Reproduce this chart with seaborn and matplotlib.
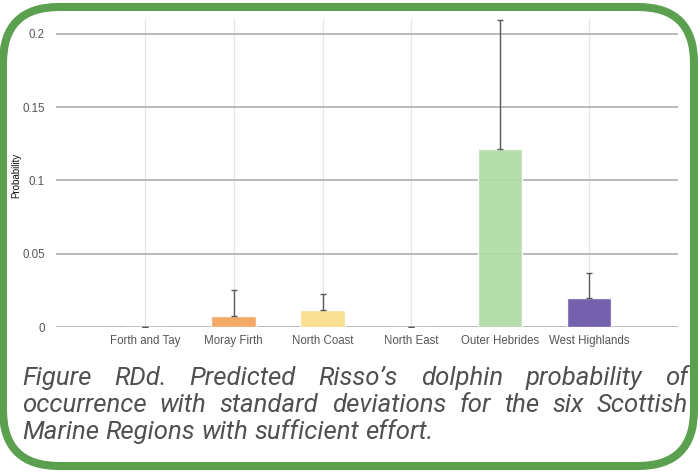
import matplotlib
matplotlib.use("Agg")
import matplotlib.pyplot as plt
from matplotlib.patches import FancyBboxPatch
from matplotlib.ticker import FuncFormatter
import seaborn as sns
import pandas as pd

# Predicted probability of occurrence per Scottish Marine Region
regions = ["Forth and Tay", "Moray Firth", "North Coast", "North East",
           "Outer Hebrides", "West Highlands"]
probability = [0.0, 0.0075, 0.0115, 0.0, 0.1215, 0.0195]
std_dev = [0.0, 0.0178, 0.0112, 0.0, 0.088, 0.0175]
bar_colors = ["#8fb7d9", "#f4a35a", "#f8dd89", "#e88a8a", "#b0dca6", "#6853a7"]
y_ticks = [0, 0.05, 0.1, 0.15, 0.2]

caption_lines = [
    "Figure RDd. Predicted Risso\u2019s dolphin probability of",
    "occurrence with standard deviations for the six Scottish",
    "Marine Regions with sufficient effort.",
]

df = pd.DataFrame({"region": regions, "probability": probability})

sns.set_theme(style="white")
plt.rcParams["font.family"] = ["Liberation Sans", "DejaVu Sans"]

W, H = 700, 472
fig = plt.figure(figsize=(W / 100, H / 100), dpi=100)
fig.patch.set_facecolor("white")

ax = fig.add_axes([56 / W, 1 - 327 / H, (678 - 56) / W, (327 - 19) / H])
ax.set_facecolor("white")

# grid first so the translucent bars sit on top of it
for i in range(len(regions)):
    ax.axvline(i, color="#e6e6e6", lw=0.9, zorder=0)
for t in y_ticks:
    ax.axhline(t, color="#b3b3b3", lw=1.3, zorder=0)

sns.barplot(data=df, x="region", y="probability", hue="region",
            palette=bar_colors, width=0.5, alpha=0.92, legend=False,
            saturation=1, ax=ax, zorder=2)

ax.errorbar(range(len(regions)), probability, yerr=[[0] * len(regions), std_dev],
            fmt="none", ecolor="#595959", elinewidth=1.0, capsize=2, capthick=1.0,
            zorder=3)

ax.set_xlim(-1, len(regions))
ax.set_ylim(0, 0.21)
ax.set_yticks(y_ticks)
ax.yaxis.set_major_formatter(FuncFormatter(lambda v, p: f"{v:g}"))
ax.tick_params(axis="both", length=0, labelsize=8.3, labelcolor="#555555", pad=6)
ax.tick_params(axis="y", pad=8)
ax.set_xlabel("")
ax.set_ylabel("")
for s in ax.spines.values():
    s.set_visible(False)

fig.text(16 / W, 1 - 175 / H, "Probability", rotation=90, fontsize=7,
         color="#111111", ha="center", va="center")

# rounded green frame
frame = FancyBboxPatch((3 / W, 1 - 466 / H), (694 - 3) / W, (466 - 7) / H,
                       boxstyle="round,pad=0,rounding_size=0.08",
                       transform=fig.transFigure, facecolor="none",
                       edgecolor="#5aa04f", lw=5.8, mutation_aspect=W / H)
fig.add_artist(frame)

# justified italic caption
renderer = fig.canvas.get_renderer()
cap_kw = dict(fontsize=18.5, style="italic", weight="normal", color="#505050",
              family=["Roboto", "DejaVu Sans"], va="baseline", ha="left")
left_px, right_px = 22, 688
baselines = [385, 412, 439]
for li, (line, base) in enumerate(zip(caption_lines, baselines)):
    words = line.split(" ")
    texts = [fig.text(0, 1 - base / H, w, **cap_kw) for w in words]
    widths = [t.get_window_extent(renderer).width for t in texts]
    if li < len(caption_lines) - 1:
        gap = (right_px - left_px - sum(widths)) / (len(words) - 1)
    else:
        space = fig.text(0, 0, "a a", **cap_kw)
        one = fig.text(0, 0, "aa", **cap_kw)
        gap = space.get_window_extent(renderer).width - one.get_window_extent(renderer).width
        space.remove()
        one.remove()
    x = left_px
    for t, w in zip(texts, widths):
        t.set_x(x / W)
        x += w + gap

fig.savefig("out.png", dpi=100, facecolor="white")
